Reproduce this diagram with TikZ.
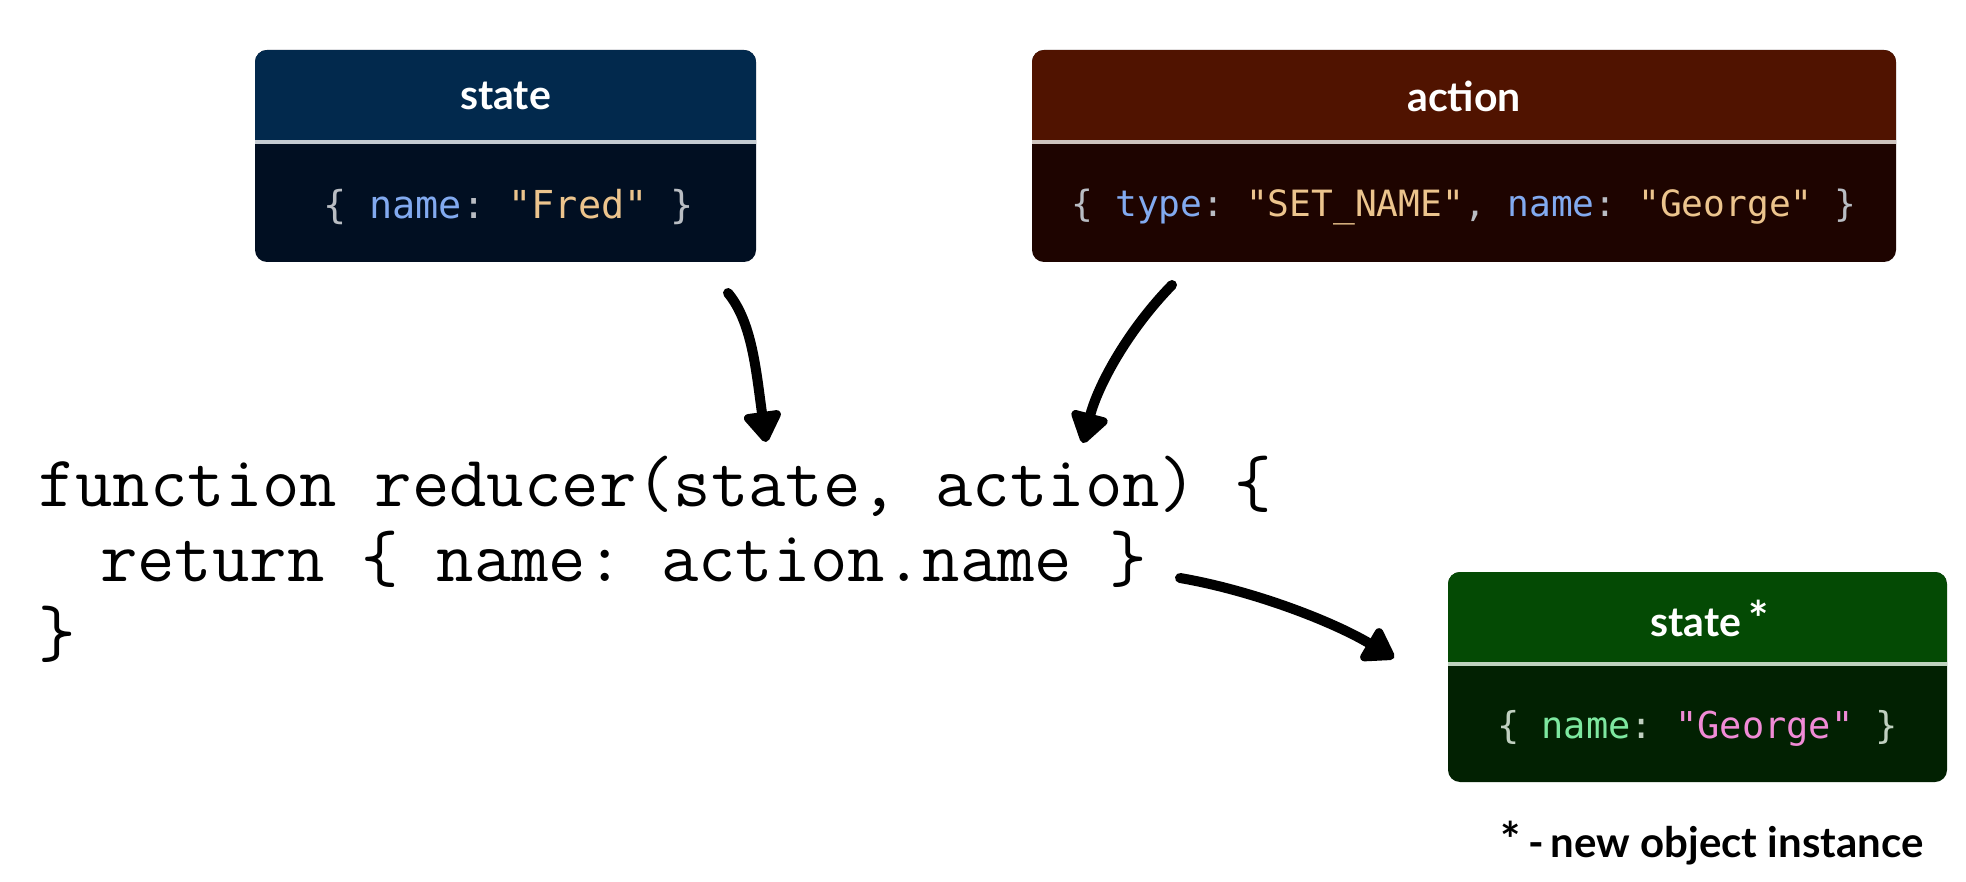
\documentclass[tikz,border=0pt]{standalone}
\usepackage{fontspec}
\usepackage{graphicx}
\usetikzlibrary{arrows.meta,calc}
\newfontfamily\handfont{Lato}
\newfontfamily\boxmono{DejaVu Sans Mono}
\definecolor{shead}{HTML}{02294D}
\definecolor{sbody}{HTML}{010F22}
\definecolor{ssep}{HTML}{C5CCD3}
\definecolor{ahead}{HTML}{501300}
\definecolor{abody}{HTML}{1E0400}
\definecolor{asep}{HTML}{CFC4BE}
\definecolor{ghead}{HTML}{044A04}
\definecolor{gbody}{HTML}{022102}
\definecolor{gsep}{HTML}{BFD3BF}
\definecolor{punct}{HTML}{B9BDC3}
\definecolor{gpunct}{HTML}{C0D0C0}
\definecolor{keyblue}{HTML}{82AAF0}
\definecolor{strtan}{HTML}{ECC48D}
\definecolor{keygreen}{HTML}{7EE8A0}
\definecolor{strpink}{HTML}{F08BD6}
\frenchspacing
\begin{document}
\begin{tikzpicture}[x=1pt,y=-1pt]
\tikzset{
  boxframe/.style={inner sep=0pt, outer sep=0pt, minimum height=212pt},
  hdrtext/.style={inner sep=0pt, text=white, font=\handfont\bfseries\fontsize{41}{48}\selectfont},
  jsontext/.style={inner sep=0pt, text=punct, font=\boxmono\frenchspacing\fontsize{37}{44}\selectfont},
  codetext/.style={inner sep=0pt, anchor=base west, font=\ttfamily\frenchspacing\fontsize{72.6}{80}\selectfont},
  notetext/.style={inner sep=0pt, anchor=base, font=\handfont\bfseries\fontsize{42}{50}\selectfont},
  sketch/.style={line width=10pt, line cap=round, line join=round, black,
    -{Triangle[length=34pt,width=42pt,round]}},
}
\fill[white] (0,0) rectangle (1966,882);
\useasboundingbox (0,0) rectangle (1966,882);

% ---------- state box ----------
\node[boxframe, minimum width=501pt] (sbox) at (505.5,156) {};
\fill[sbody, rounded corners=12pt] (sbox.north west) rectangle (sbox.south east);
\begin{scope}
  \clip[rounded corners=12pt] (sbox.north west) rectangle (sbox.south east);
  \fill[shead] (sbox.north west) rectangle ($(sbox.north east)+(0,92)$);
\end{scope}
\draw[ssep, line width=4pt] ($(sbox.north west)+(0,92)$) -- ($(sbox.north east)+(0,92)$);
\node[hdrtext] (stitle) at ($(sbox.north)+(0,46)$) {state};
\node[jsontext, font=\boxmono\frenchspacing\fontsize{38.5}{44}\selectfont] (sjson) at ($(sbox.south)+(3,-55)$)
  {\{ \textcolor{keyblue}{name}: \textcolor{strtan}{"Fred"} \}};

% ---------- action box ----------
\node[boxframe, minimum width=864pt] (abox) at (1464,156) {};
\fill[abody, rounded corners=12pt] (abox.north west) rectangle (abox.south east);
\begin{scope}
  \clip[rounded corners=12pt] (abox.north west) rectangle (abox.south east);
  \fill[ahead] (abox.north west) rectangle ($(abox.north east)+(0,92)$);
\end{scope}
\draw[asep, line width=4pt] ($(abox.north west)+(0,92)$) -- ($(abox.north east)+(0,92)$);
\node[hdrtext] (atitle) at ($(abox.north)+(0,46)$) {action};
\node[jsontext, font=\boxmono\frenchspacing\fontsize{36.2}{44}\selectfont] (ajson) at ($(abox.south)+(0,-55)$)
  {\{ \textcolor{keyblue}{type}: \textcolor{strtan}{"SET\_NAME"}, \textcolor{keyblue}{name}: \textcolor{strtan}{"George"} \}};

% ---------- new state box ----------
\node[boxframe, minimum width=499pt, minimum height=210pt] (gbox) at (1697.5,677) {};
\fill[gbody, rounded corners=12pt] (gbox.north west) rectangle (gbox.south east);
\begin{scope}
  \clip[rounded corners=12pt] (gbox.north west) rectangle (gbox.south east);
  \fill[ghead] (gbox.north west) rectangle ($(gbox.north east)+(0,92)$);
\end{scope}
\draw[gsep, line width=4pt] ($(gbox.north west)+(0,92)$) -- ($(gbox.north east)+(0,92)$);
\node[hdrtext] (gtitle) at ($(gbox.north)+(12,46)$) {state\,{\fontsize{48}{48}\selectfont*}};
\node[jsontext, text=gpunct] (gjson) at ($(gbox.south)+(0,-54)$)
  {\{ \textcolor{keygreen}{name}: \textcolor{strpink}{"George"} \}};

\node[notetext] (note) at (1712,857) {{\fontsize{48}{48}\selectfont*}\,-\,new object instance};

% ---------- code ----------
\node[codetext] (code1) at (38,506) {function reducer(state, action) \{};
\node[codetext] (code2) at (100,581) {return \{ name: action.name \}};
\node[codetext] (code3) at (38,656) {\}};

% ---------- sketchy arrows ----------
\coordinate (a1s) at (728,293);
\coordinate (a1e) at (766,442);
\coordinate (a2s) at (1172,285);
\coordinate (a2e) at (1083,443);
\coordinate (a3s) at (1180,578);
\coordinate (a3e) at (1394,658);
\draw[sketch] (a1s) .. controls (752,322) and (756,370) .. (a1e);
\draw[sketch] (a2s) .. controls (1128,330) and (1098,385) .. (a2e);
\draw[sketch] (a3s) .. controls (1250,590) and (1330,620) .. (a3e);
\end{tikzpicture}
\end{document}
